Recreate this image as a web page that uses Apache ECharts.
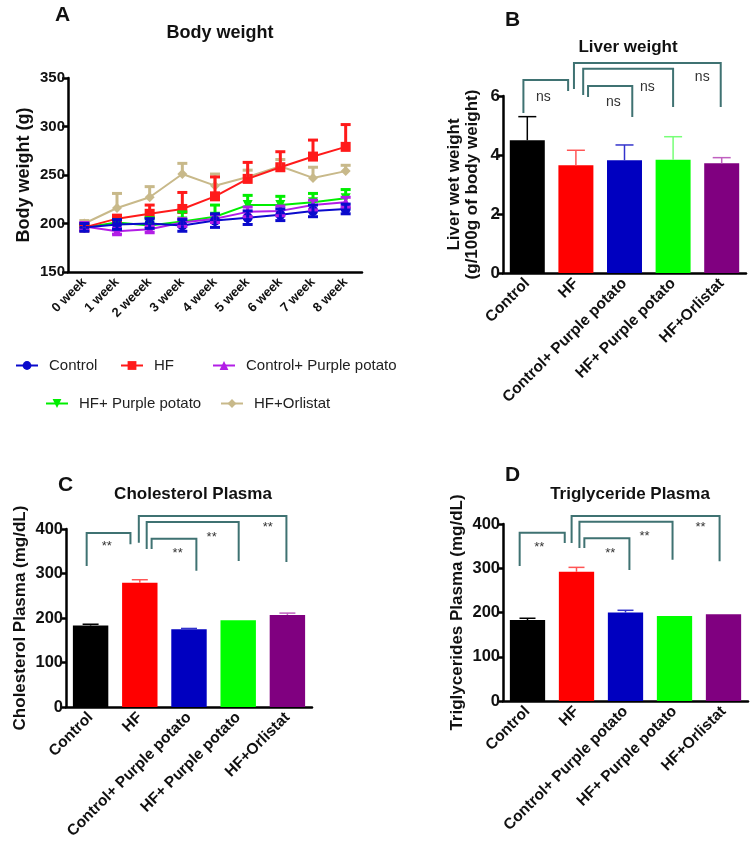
<!DOCTYPE html>
<html>
<head>
<meta charset="utf-8">
<script src="https://cdn.jsdelivr.net/npm/echarts@6/dist/echarts.min.js"></script>
<style>html,body{margin:0;padding:0;background:#fff}#c{width:750px;height:857px}</style>
</head>
<body>
<div id="c"></div>
<script>
// ---------- DATA ----------
const weeks = ['0 week','1 week','2 weeek','3 week','4 week','5 week','6 week','7 week','8 week'];
const bwControl = [196, 199, 200, 198, 203, 206, 209, 213, 215];
const bwControlErr = [4, 5, 5, 6, 7, 7, 6, 6, 5];
const bwHF = [196, 205, 210, 215, 228, 246, 258, 269, 279];
const bwHFErr = [3, 3, 9, 17, 20, 17, 16, 17, 23];
const bwCPP = [197, 192, 194, 201, 205, 212, 213, 219, 222];
const bwCPPErr = [4, 3, 3, 4, 4, 5, 5, 5, 5];
const bwHFPP = [196, 201, 198, 202, 207, 219, 219, 222, 226];
const bwHFPPErr = [3, 3, 8, 10, 12, 10, 9, 9, 9];
const bwOrl = [200, 216, 227, 251, 239, 248, 259, 247, 254];
const bwOrlErr = [3, 15, 11, 11, 12, 7, 7, 11, 6];

const groups = ['Control', 'HF', 'Control+ Purple potato', 'HF+ Purple potato', 'HF+Orlistat'];
const liver = [4.5, 3.65, 3.82, 3.84, 3.72];
const liverErr = [0.8, 0.51, 0.52, 0.78, 0.19];
const chol = [183, 279, 175, 195, 207];
const cholErr = [3, 7, 1.5, 0, 4];
const tg = [183, 292, 200, 192, 196];
const tgErr = [4, 10, 5, 0, 0];

const yTicksA = [150, 350, 50];
const yTicksB = [0, 6, 2];
const yTicksC = [0, 400, 100];
const yTicksD = [0, 400, 100];

// significance brackets: [x1, x2, yTop, yLeftEnd, yRightEnd] (category units, value units)
const bracketsB = [[-0.08, 0.84, 6.54, 5.42, 6.17], [0.96, 3.98, 7.12, 6.24, 5.63], [1.15, 3.0, 6.92, 6.03, 5.63], [1.25, 2.16, 6.34, 5.97, 5.29]];
const sigB = [[0.33, 5.97, 'ns'], [3.6, 6.64, 'ns'], [2.47, 6.3, 'ns'], [1.77, 5.8, 'ns']];
const bracketsC = [[-0.08, 0.81, 391, 317, 366], [0.98, 3.98, 429, 369, 326], [1.14, 3.01, 416, 355, 328], [1.24, 2.15, 378, 355, 306]];
const sigC = [[0.33, 360, '**'], [3.6, 404, '**'], [2.46, 382, '**'], [1.77, 346, '**']];
const bracketsD = [[-0.16, 0.76, 380, 305, 357], [0.9, 3.92, 418, 357, 316], [1.06, 2.96, 405, 346, 319], [1.16, 2.08, 368, 346, 296]];
const sigD = [[0.24, 348, '**'], [3.53, 393, '**'], [2.39, 373, '**'], [1.69, 334, '**']];

// ---------- STYLE ----------
const FONT = 'Liberation Sans, Arial, sans-serif';
const barColors = ['#000000', '#FF0000', '#0000C0', '#00FF00', '#800080'];
const barErrColors = ['#000000', '#FF5555', '#3333CC', '#77FF77', '#C060C0'];
const lineColors = {Control: '#0A0ACC', HF: '#FF1A1A', CPP: '#B21EE6', HFPP: '#00EE00', Orl: '#C8B98A'};
const brColor = '#3F7272';

const chart = echarts.init(document.getElementById('c'), null, {renderer: 'canvas'});

function axisX(grid, data, fs, margin) {
  return {
    type: 'category', gridIndex: grid, data: data, boundaryGap: true,
    axisLine: {lineStyle: {color: '#000', width: 2.5}},
    axisTick: {alignWithLabel: true, length: 6, lineStyle: {color: '#000', width: 2.5}},
    axisLabel: {rotate: 45, fontSize: fs, fontWeight: 'bold', color: '#111', fontFamily: FONT, margin: margin, interval: 0}
  };
}
function axisY(grid, t, name, fs, nameGap, nameFs) {
  return {
    type: 'value', gridIndex: grid, min: t[0], max: t[1], interval: t[2],
    name: name, nameLocation: 'middle', nameGap: nameGap, nameRotate: 90,
    nameTextStyle: {fontSize: nameFs, fontWeight: 'bold', color: '#111', fontFamily: FONT, lineHeight: nameFs + 1},
    splitLine: {show: false},
    axisLine: {show: true, lineStyle: {color: '#000', width: 2.5}},
    axisTick: {show: true, length: 6, lineStyle: {color: '#000', width: 2.5}},
    axisLabel: {fontSize: fs, fontWeight: 'bold', color: '#111', fontFamily: FONT, margin: 3}
  };
}
function errSeries(name, xi, yi, vals, errs, colors, lw, half, both) {
  return {
    type: 'custom', name: name, xAxisIndex: xi, yAxisIndex: yi, silent: true, z: 5,
    data: vals.map((v, i) => [i, v, errs[i]]),
    renderItem: function (params, api) {
      const i = api.value(0), m = api.value(1), e = api.value(2);
      if (!(e > 0)) return null;
      const col = Array.isArray(colors) ? colors[i] : colors;
      const top = api.coord([i, m + e]), mid = api.coord([i, m]);
      const st = {stroke: col, lineWidth: lw};
      const ch = [
        {type: 'line', shape: {x1: top[0], y1: top[1], x2: mid[0], y2: mid[1]}, style: st},
        {type: 'line', shape: {x1: top[0] - half, y1: top[1], x2: top[0] + half, y2: top[1]}, style: st}
      ];
      if (both) {
        const bot = api.coord([i, m - e]);
        ch.push({type: 'line', shape: {x1: mid[0], y1: mid[1], x2: bot[0], y2: bot[1]}, style: st});
        ch.push({type: 'line', shape: {x1: bot[0] - half, y1: bot[1], x2: bot[0] + half, y2: bot[1]}, style: st});
      }
      return {type: 'group', children: ch};
    }
  };
}
function lineSeries(name, vals, color, symbol, rot) {
  return {
    type: 'line', name: name, xAxisIndex: 0, yAxisIndex: 0, data: vals,
    symbol: symbol, symbolSize: 10, symbolRotate: rot || 0, z: 3,
    lineStyle: {color: color, width: 2}, itemStyle: {color: color}
  };
}
function barSeries(name, xi, yi, vals) {
  return {
    type: 'bar', name: name, xAxisIndex: xi, yAxisIndex: yi, barWidth: '72%',
    data: vals.map((v, i) => ({value: v, itemStyle: {color: barColors[i]}}))
  };
}
const legendBase = (name, left, top) => ({
  data: [name], left: left, top: top, itemWidth: 22, itemHeight: 11, selectedMode: false,
  textStyle: {fontSize: 15, color: '#222', fontFamily: FONT, padding: [0, 0, 0, 6]}
});
const titleBase = (text, left, top, fs, align) => ({
  text: text, left: left, top: top, textAlign: align || 'left',
  textStyle: {fontSize: fs, fontWeight: 'bold', color: '#111', fontFamily: FONT}
});

const option = {
  animation: false,
  title: [
    titleBase('A', 50, 0, 21), titleBase('Body weight', 215, 19, 18, 'center'),
    titleBase('B', 500, 5, 21), titleBase('Liver weight', 623, 34, 17, 'center'),
    titleBase('C', 53, 470, 21), titleBase('Cholesterol Plasma', 188, 481, 17, 'center'),
    titleBase('D', 500, 460, 21), titleBase('Triglyceride Plasma', 625, 481, 17, 'center')
  ],
  legend: [
    legendBase('Control', 10, 353), legendBase('HF', 115, 353), legendBase('Control+ Purple potato', 207, 353),
    legendBase('HF+ Purple potato', 40, 391), legendBase('HF+Orlistat', 215, 391)
  ],
  grid: [
    {left: 68, top: 78, width: 294, height: 194},
    {left: 503, top: 96, width: 243, height: 177},
    {left: 66, top: 529, width: 246, height: 178},
    {left: 503, top: 524, width: 245, height: 177}
  ],
  xAxis: [
    axisX(0, weeks, 13, 8),
    axisX(1, groups, 15.5, 8),
    axisX(2, groups, 15.5, 8),
    axisX(3, groups, 15.5, 8)
  ],
  yAxis: [
    axisY(0, yTicksA, 'Body weight (g)', 15, 34, 18),
    axisY(1, yTicksB, 'Liver wet weight\n(g/100g of body weight)', 17, 22, 17),
    axisY(2, yTicksC, 'Cholesterol Plasma (mg/dL)', 16.5, 37, 17),
    axisY(3, yTicksD, 'Triglycerides Plasma (mg/dL)', 16.5, 37, 17)
  ],
  series: [
    lineSeries('HF+Orlistat', bwOrl, lineColors.Orl, 'diamond'),
    errSeries('eOrl', 0, 0, bwOrl, bwOrlErr, lineColors.Orl, 3, 5, false),
    lineSeries('HF+ Purple potato', bwHFPP, lineColors.HFPP, 'triangle', 180),
    errSeries('eHFPP', 0, 0, bwHFPP, bwHFPPErr, lineColors.HFPP, 3, 5, false),
    lineSeries('HF', bwHF, lineColors.HF, 'rect'),
    errSeries('eHF', 0, 0, bwHF, bwHFErr, lineColors.HF, 3, 5, false),
    lineSeries('Control+ Purple potato', bwCPP, lineColors.CPP, 'triangle'),
    errSeries('eCPP', 0, 0, bwCPP, bwCPPErr, lineColors.CPP, 3, 5, true),
    lineSeries('Control', bwControl, lineColors.Control, 'circle'),
    errSeries('eCtl', 0, 0, bwControl, bwControlErr, lineColors.Control, 3, 5, true),

    barSeries('liver', 1, 1, liver),
    errSeries('eLiver', 1, 1, liver, liverErr, barErrColors, 1.5, 9, false),
    barSeries('chol', 2, 2, chol),
    errSeries('eChol', 2, 2, chol, cholErr, barErrColors, 1.5, 8, false),
    barSeries('tg', 3, 3, tg),
    errSeries('eTg', 3, 3, tg, tgErr, barErrColors, 1.5, 8, false)
  ]
};
chart.setOption(option);

// ---------- significance annotations (data units -> pixels) ----------
function toPx(g, xi, yv) {
  const p0 = chart.convertToPixel({gridIndex: g}, [0, yv]);
  const p1 = chart.convertToPixel({gridIndex: g}, [1, yv]);
  return [p0[0] + (p1[0] - p0[0]) * xi, p0[1]];
}
const gfx = [];
function addBrackets(g, brs, sigs, fs) {
  brs.forEach(b => {
    const pts = [toPx(g, b[0], b[3]), toPx(g, b[0], b[2]), toPx(g, b[1], b[2]), toPx(g, b[1], b[4])];
    gfx.push({type: 'polyline', shape: {points: pts}, style: {stroke: brColor, lineWidth: 2, fill: null}, z: 10});
  });
  sigs.forEach(s => {
    const p = toPx(g, s[0], s[1]);
    gfx.push({type: 'text', x: p[0], y: p[1], z: 10,
      style: {text: s[2], fontSize: fs, fill: '#333', fontFamily: FONT, align: 'center', verticalAlign: 'middle'}});
  });
}
addBrackets(1, bracketsB, sigB, 14);
addBrackets(2, bracketsC, sigC, 13);
addBrackets(3, bracketsD, sigD, 13);
chart.setOption({graphic: gfx});
</script>
</body>
</html>
